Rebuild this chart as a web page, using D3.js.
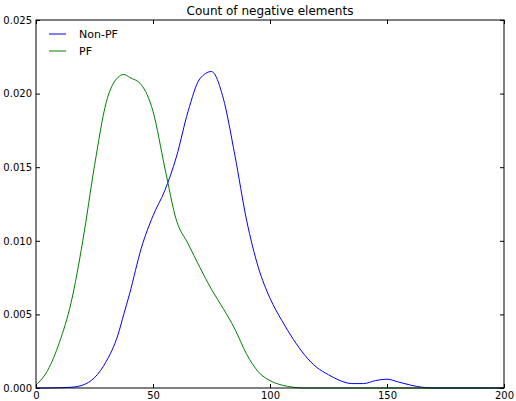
<!DOCTYPE html>
<html>
<head>
<meta charset="utf-8">
<script src="https://cdn.jsdelivr.net/npm/d3@7"></script>
<style>
  body { margin: 0; background: #fff; }
  svg text { font-family: "DejaVu Sans", sans-serif; fill: #000; }
</style>
</head>
<body>
<div id="chart"></div>
<script>
// sample points of the two density curves
const xValues = [0, 5, 10, 15, 20, 25, 30, 35, 37.5, 40, 45, 50, 55, 60, 65, 70, 75, 80, 85, 90,
  95, 100, 105, 110, 115, 120, 125, 130, 135, 140, 145, 150, 155, 160, 165, 170, 180, 190, 200];

const nonPF = [0, 0, 0.00002, 0.00005, 0.0002, 0.0007, 0.0018, 0.0036, 0.005, 0.0064, 0.0095,
  0.0117, 0.0134, 0.0157, 0.0188, 0.021, 0.0215, 0.0197, 0.0158, 0.0114, 0.0082, 0.0061, 0.0046,
  0.0033, 0.0022, 0.0014, 0.0009, 0.0005, 0.0003, 0.0003, 0.0005, 0.0006, 0.0004, 0.0002, 0.00005,
  0, 0, 0, 0];

const pf = [0.0002, 0.0012, 0.0031, 0.0058, 0.01, 0.0151, 0.0194, 0.0211, 0.0213, 0.0211, 0.0206,
  0.0188, 0.015, 0.0114, 0.0098, 0.0082, 0.0067, 0.0054, 0.004, 0.0023, 0.0011, 0.0005, 0.0002,
  0.00005, 0, 0, 0, 0, 0, 0, 0, 0, 0, 0, 0, 0, 0, 0, 0];

const seriesNames = ["Non-PF", "PF"];
const seriesColors = ["#0000ff", "#008000"];
const xTicks = [0, 50, 100, 150, 200];
const yTicks = [0, 0.005, 0.01, 0.015, 0.02, 0.025];

const margin = { top: 20, right: 12, bottom: 13, left: 36 },
  width = 516 - margin.left - margin.right,
  height = 401 - margin.top - margin.bottom;

const svg = d3.select("#chart")
  .append("svg")
  .attr("width", 516)
  .attr("height", 401)
  .append("g")
  .attr("transform", `translate(${margin.left},${margin.top})`);

const x = d3.scaleLinear().domain([0, 200]).range([0, width]);
const y = d3.scaleLinear().domain([0, 0.025]).range([height, 0]);

const line = d3.line()
  .x((d, i) => x(xValues[i]))
  .y(d => y(d))
  .curve(d3.curveMonotoneX);

[nonPF, pf].forEach((vals, k) => {
  svg.append("path")
    .datum(vals)
    .attr("fill", "none")
    .attr("stroke", seriesColors[k])
    .attr("stroke-width", 1)
    .attr("d", line);
});

// axes, ticks pointing inward on all four sides
const fmtY = d3.format(".3f");
svg.append("g")
  .attr("transform", `translate(0,${height})`)
  .call(d3.axisBottom(x).tickValues(xTicks).tickSizeInner(-4).tickSizeOuter(0).tickPadding(4))
  .call(g => g.selectAll("text").style("font-size", "10px"));
svg.append("g")
  .call(d3.axisTop(x).tickValues(xTicks).tickSizeInner(-4).tickSizeOuter(0).tickFormat(""));
svg.append("g")
  .call(d3.axisLeft(y).tickValues(yTicks).tickSizeInner(-4).tickSizeOuter(0).tickPadding(4).tickFormat(fmtY))
  .call(g => g.selectAll("text").style("font-size", "10px"));
svg.append("g")
  .attr("transform", `translate(${width},0)`)
  .call(d3.axisRight(y).tickValues(yTicks).tickSizeInner(-4).tickSizeOuter(0).tickFormat(""));

svg.selectAll(".domain").remove();
svg.append("rect")
  .attr("x", 0).attr("y", 0)
  .attr("width", width).attr("height", height)
  .attr("fill", "none")
  .attr("stroke", "#000")
  .attr("stroke-width", 1);

svg.append("text")
  .attr("x", width / 2)
  .attr("y", -5)
  .attr("text-anchor", "middle")
  .style("font-size", "12px")
  .text("Count of negative elements");

// legend
const legend = svg.append("g").attr("transform", "translate(13,14)");
seriesNames.forEach((name, i) => {
  legend.append("line")
    .attr("x1", 0).attr("x2", 17)
    .attr("y1", i * 17).attr("y2", i * 17)
    .attr("stroke", seriesColors[i])
    .attr("stroke-width", 1);
  legend.append("text")
    .attr("x", 30)
    .attr("y", i * 17 + 4)
    .style("font-size", "11px")
    .text(name);
});
</script>
</body>
</html>
